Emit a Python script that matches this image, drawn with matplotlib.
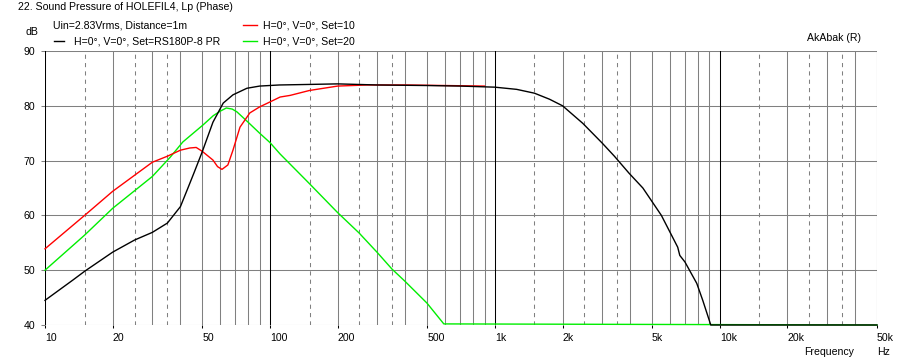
import matplotlib
matplotlib.use("Agg")
import matplotlib.pyplot as plt

plt.rcParams['font.family'] = ['Liberation Sans', 'DejaVu Sans']
plt.rcParams['font.size'] = 7.6

# curves (Hz, dB)
black_f = [10, 13.3, 15, 20, 25, 30, 35, 40, 43.2, 46, 50, 55.8, 62, 68.5, 79, 90, 110,
           150, 200, 300, 500, 700, 1000, 1250, 1500, 1750, 2000, 2460, 3000, 3400, 3950,
           4550, 5500, 6500, 6640, 7000, 7900, 8400, 9120, 50000]
black_db = [44.5, 48.2, 49.8, 53.3, 55.5, 56.9, 58.6, 61.6, 65.0, 67.8, 71.6, 77.0, 80.5,
            82.0, 83.2, 83.6, 83.8, 83.9, 84.0, 83.8, 83.7, 83.6, 83.4, 83.0, 82.3, 81.2,
            80.0, 76.8, 73.2, 70.8, 67.7, 65.0, 60.0, 54.2, 52.7, 51.5, 47.6, 44.5, 40.0,
            40.0]

red_f = [10, 15, 20, 30, 35, 40, 44, 47, 50, 55.8, 58.5, 61.2, 65, 68.5, 73.6, 81.4, 90,
         100, 111, 123, 150, 200, 270, 400, 600, 900]
red_db = [53.9, 60.0, 64.4, 69.7, 70.8, 71.9, 72.3, 72.4, 71.7, 70.1, 68.9, 68.4, 69.2,
          71.9, 76.1, 78.7, 79.8, 80.7, 81.6, 81.9, 82.8, 83.6, 83.8, 83.8, 83.7, 83.6]

green_f = [10, 15, 20, 30, 36, 41, 50.4, 56, 60, 64, 68, 71.3, 80, 90, 100, 111, 149, 199,
           249, 299, 349, 398, 499, 593, 50000]
green_db = [50.0, 56.4, 61.3, 67.1, 70.6, 73.4, 76.5, 78.2, 79.0, 79.6, 79.4, 78.9, 77.0,
            75.0, 73.3, 71.2, 65.9, 60.6, 56.8, 53.3, 50.2, 48.0, 44.0, 40.2, 40.0]

# grid positions
decade_lines = [10, 100, 1000, 10000, 50000]
solid_lines = [m * d for d in (10, 100, 1000, 10000) for m in range(2, 10) if m * d < 50000]
dashed_lines = [m * d for d in (10, 100, 1000, 10000) for m in (1.5, 2.5, 3.5)]
db_lines = [40, 50, 60, 70, 80, 90]
x_ticks = [10, 20, 50, 100, 200, 500, 1000, 2000, 5000, 10000, 20000, 50000]
x_labels = ['10', '20', '50', '100', '200', '500', '1k', '2k', '5k', '10k', '20k', '50k']

W, H = 899, 363
fig = plt.figure(figsize=(W / 100, H / 100), dpi=100)
ax = fig.add_axes([45 / W, 1 - 325 / H, 832 / W, 274 / H])
ax.set_xscale('log')
ax.set_xlim(10, 50000)
ax.set_ylim(40, 90)
for s in ax.spines.values():
    s.set_visible(False)

lw = 0.75
for y in db_lines:
    ax.axhline(y, color='#808080', lw=lw, zorder=1)
for f in solid_lines:
    ax.axvline(f, color='#808080', lw=lw, zorder=1)
for f in dashed_lines:
    ax.axvline(f, color='#808080', lw=lw, ls=(0, (4, 4)), zorder=1)
for f in decade_lines:
    ax.axvline(f, color='black', lw=lw, zorder=2)

ax.plot(green_f, green_db, color='#00ee00', lw=1.0, zorder=3, clip_on=False)
ax.plot(red_f, red_db, color='#ff0000', lw=1.0, zorder=4, clip_on=False)
ax.plot(black_f, black_db, color='black', lw=1.0, zorder=5, clip_on=False)

ax.set_yticks(db_lines)
ax.set_yticklabels([str(v) for v in db_lines])
ax.tick_params(axis='y', length=3, width=lw, color='#808080', pad=4)
ax.set_xticks(x_ticks)
ax.set_xticklabels(x_labels)
ax.minorticks_off()
ax.tick_params(axis='x', length=2, width=lw, color='black', pad=4)
for t in ax.get_xticklabels():
    t.set_horizontalalignment('left')

# texts
fig.text(18 / W, 1 - 7 / H, '22. Sound Pressure of HOLEFIL4, Lp (Phase)', va='center', ha='left')
fig.text(53 / W, 1 - 25 / H, 'Uin=2.83Vrms, Distance=1m', va='center', ha='left')
fig.text(74 / W, 1 - 41 / H, 'H=0°, V=0°, Set=RS180P-8 PR', va='center', ha='left')
fig.text(263 / W, 1 - 25 / H, 'H=0°, V=0°, Set=10', va='center', ha='left')
fig.text(263 / W, 1 - 41 / H, 'H=0°, V=0°, Set=20', va='center', ha='left')
fig.add_artist(plt.Line2D([54 / W, 64 / W], [1 - 41 / H] * 2, color='black', lw=1))
fig.add_artist(plt.Line2D([243 / W, 257 / W], [1 - 25 / H] * 2, color='#ff0000', lw=1))
fig.add_artist(plt.Line2D([243 / W, 257 / W], [1 - 41 / H] * 2, color='#00ee00', lw=1))
fig.text(26 / W, 1 - 32 / H, 'dB', va='center', ha='left')
fig.text(807 / W, 1 - 38 / H, 'AkAbak (R)', va='center', ha='left')
fig.text(804 / W, 1 - 352 / H, 'Frequency', va='center', ha='left')
fig.text(877 / W, 1 - 352 / H, 'Hz', va='center', ha='left')

fig.savefig('out.png', dpi=100, facecolor='white')
